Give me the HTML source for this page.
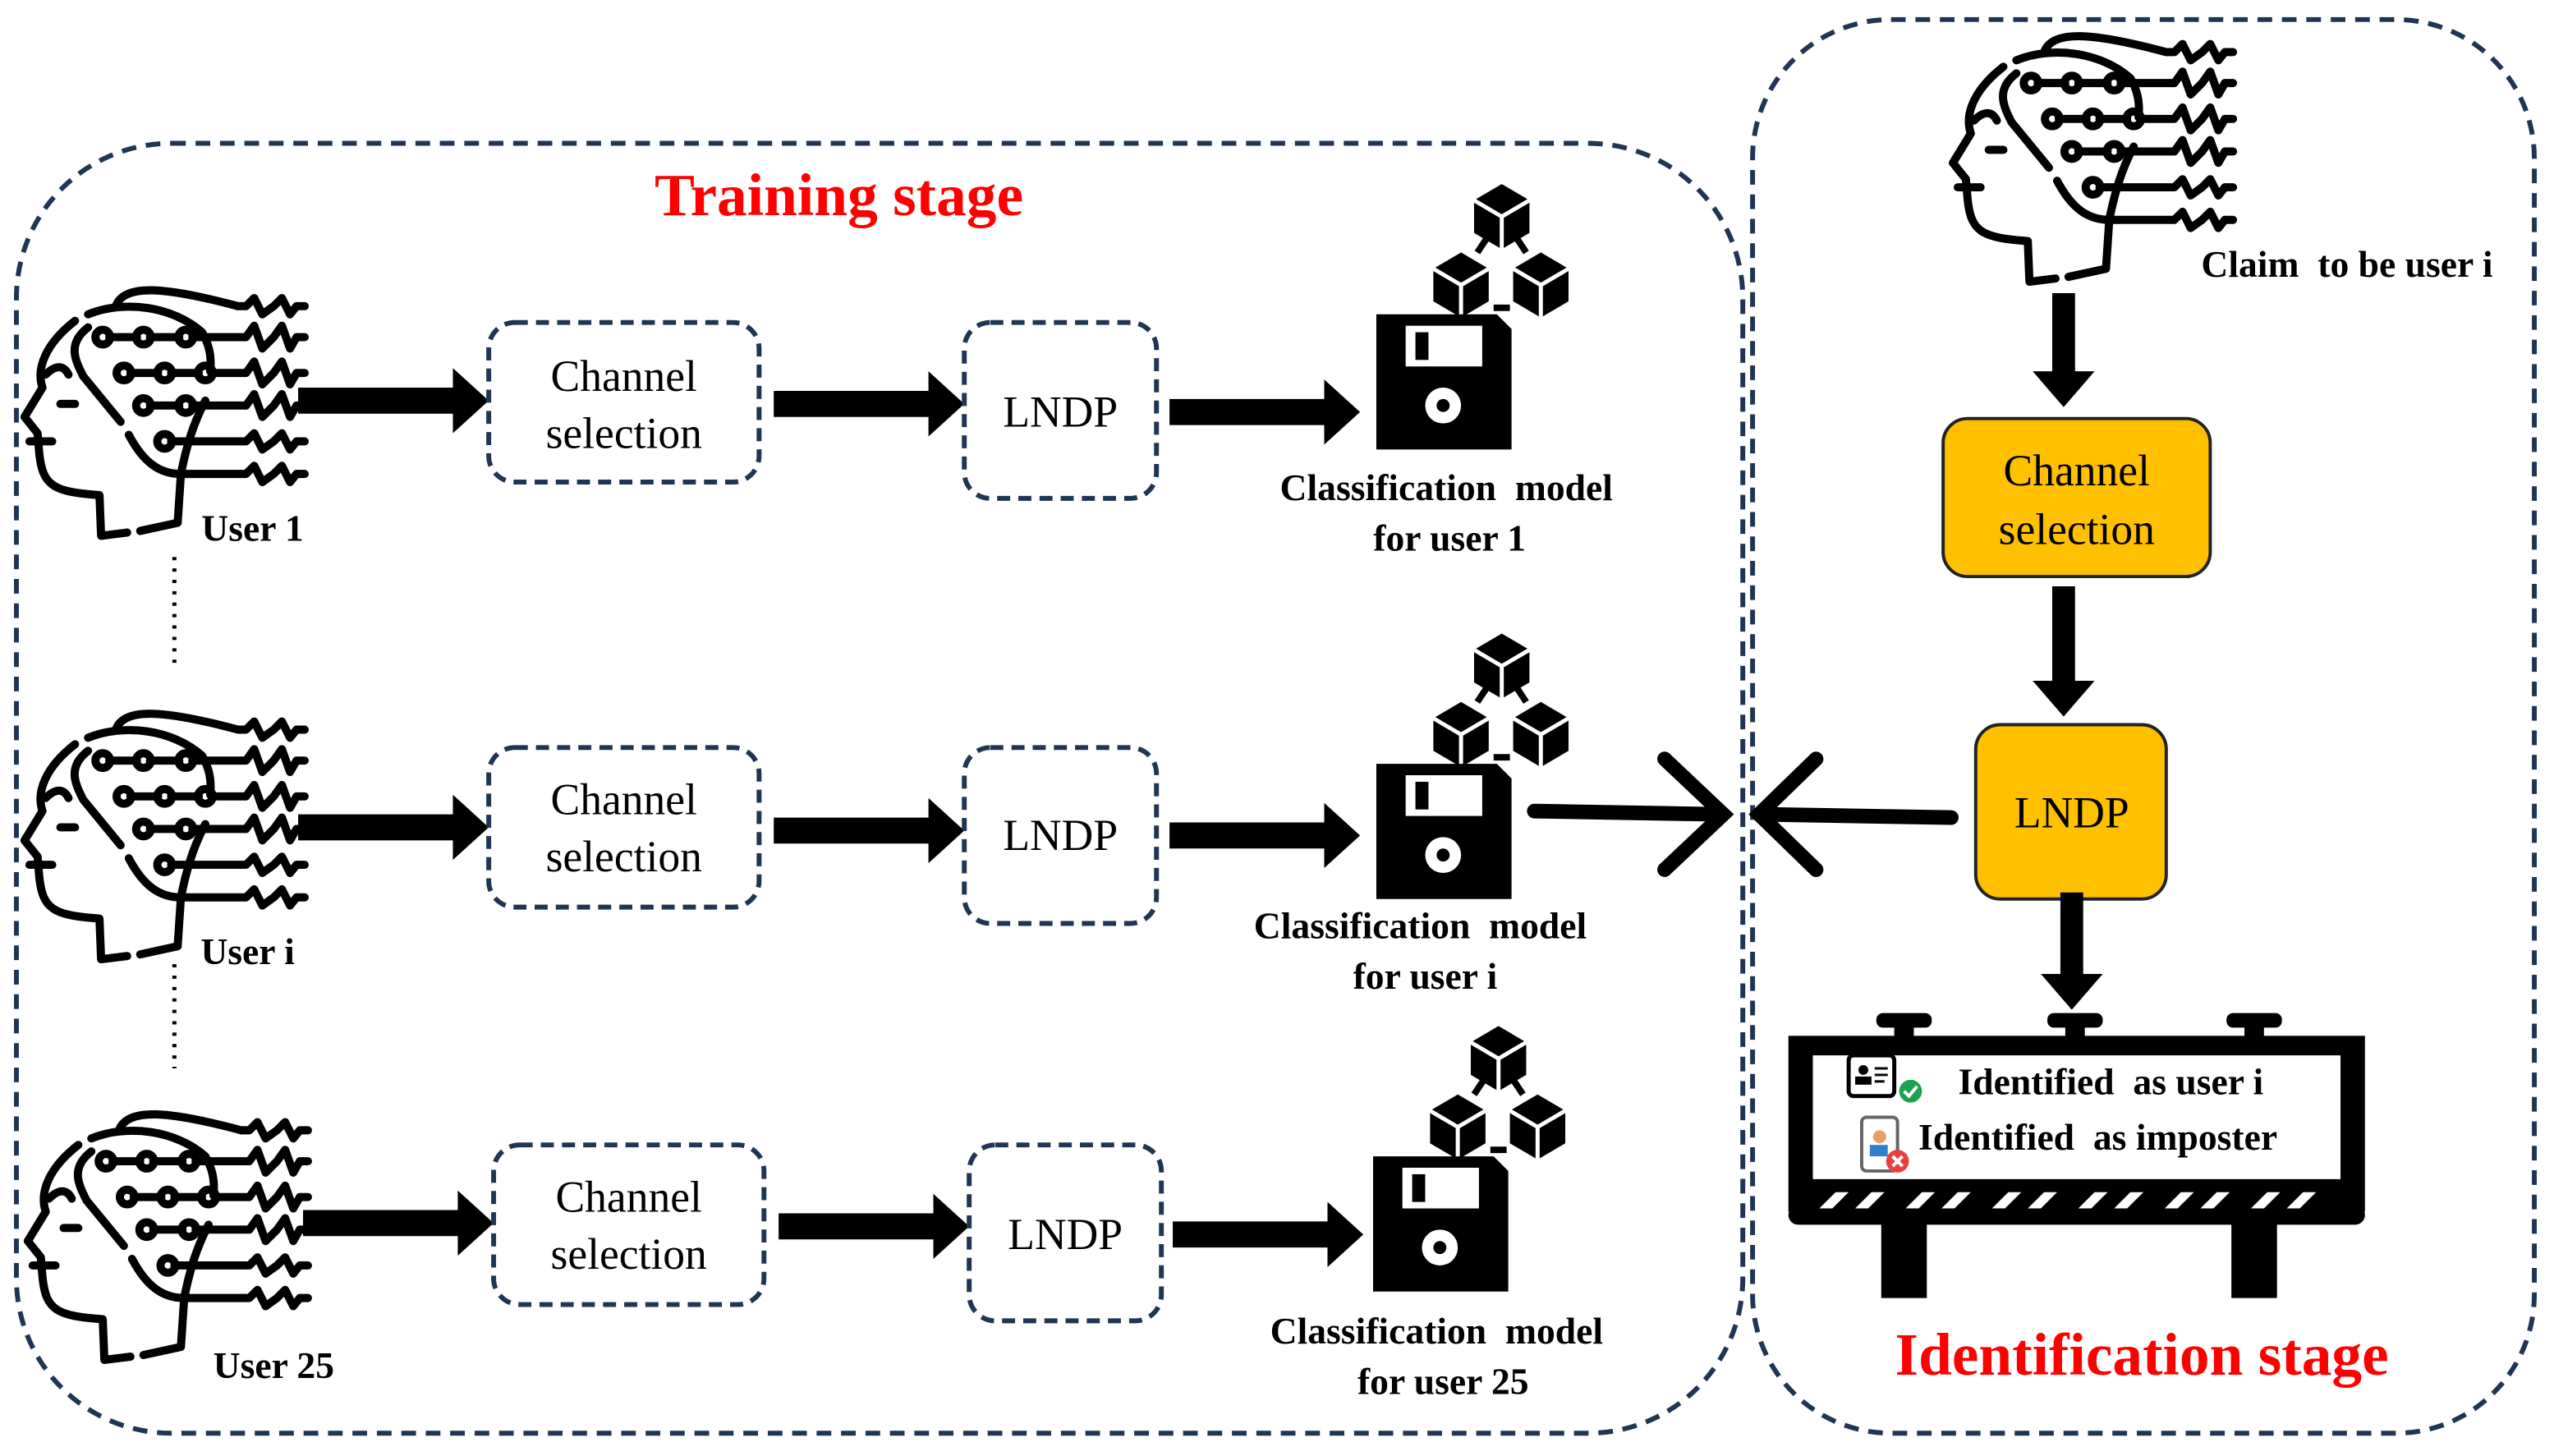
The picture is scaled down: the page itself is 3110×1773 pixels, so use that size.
<!DOCTYPE html>
<html><head><meta charset="utf-8"><style>
html,body{margin:0;padding:0;background:#fff;}
svg{display:block;}
text{font-family:"Liberation Serif",serif;white-space:pre;}
</style></head><body>
<svg width="3110" height="1773" viewBox="0 0 1568 894" xmlns="http://www.w3.org/2000/svg" xml:space="preserve">
<defs>
<g id="head" fill="none" stroke="#000" stroke-width="5" stroke-linecap="round" stroke-linejoin="round">
  <path d="M40,31 C22,45 16,60 20,72 L9,90 L17,100 L18,112 C20,132 26,136 55,138 L56,163 L72,161"/>
  <path d="M48,27 C70,18 100,22 118,38 C122,45 124,52 123,62"/>
  <path d="M65,22 C70,8 95,10 140,22"/>
  <path d="M22,64 C28,58 33,58 36,64"/>
  <path d="M31,82 L40,82"/>
  <path d="M12,105 L26,105"/>
  <path d="M48,35 C35,45 40,55 45,65 L68,93"/>
  <path d="M73,101 C82,118 92,125 105,125 L103,155 L80,160"/>
  <path d="M120,80 C112,95 108,110 105,125"/>
  <circle cx="57" cy="41" r="4.5"/><circle cx="82" cy="41" r="4.5"/><circle cx="108" cy="41" r="4.5"/>
  <circle cx="70" cy="63" r="4.5"/><circle cx="95" cy="63" r="4.5"/><circle cx="120" cy="63" r="4.5"/>
  <circle cx="82" cy="83" r="4.5"/><circle cx="108" cy="83" r="4.5"/>
  <circle cx="95" cy="105" r="4.5"/>
  <path d="M140,22 L145,22 L150,17 L155,27 L162,22 L167,17 L172,27 L176,22 L181,22"/>
  <path d="M61,41 L78,41 M86,41 L104,41 M112,41 L140,41 L145,41 L150,34 L155,48 L162,41 L167,34 L172,48 L176,41 L181,41"/>
  <path d="M74,63 L91,63 M99,63 L116,63 M124,63 L140,63 L145,63 L150,56 L155,70 L162,63 L167,56 L172,70 L176,63 L181,63"/>
  <path d="M86,83 L104,83 M112,83 L140,83 L145,83 L150,76 L155,90 L162,83 L167,76 L172,90 L176,83 L181,83"/>
  <path d="M99,105 L140,105 L145,105 L150,100 L155,110 L162,105 L167,100 L172,110 L176,105 L181,105"/>
  <path d="M105,125 L140,125 L145,125 L150,120 L155,130 L162,125 L167,120 L172,130 L176,125 L181,125"/>
</g>
<g id="cube">
  <polygon points="0,-20 17,-10 17,10 0,20 -17,10 -17,-10" fill="#000"/>
  <path d="M-17,-10 L0,0 L17,-10 M0,0 L0,20" stroke="#fff" stroke-width="2.5" fill="none"/>
</g>
<g id="model">
  <use href="#cube" x="77" y="-60"/>
  <use href="#cube" x="52" y="-18"/>
  <use href="#cube" x="101" y="-18"/>
  <path d="M62,-38 L70,-50 M92,-38 L84,-50 M72,-4 L82,-4" stroke="#000" stroke-width="4"/>
  <path d="M0,0 L74,0 L83,9 L83,83 L0,83 Z" fill="#000"/>
  <rect x="18" y="7" width="47" height="25" fill="#fff"/>
  <rect x="24" y="11" width="8" height="17" fill="#000"/>
  <circle cx="41" cy="56" r="11" fill="#fff"/>
  <circle cx="41" cy="56" r="4" fill="#000"/>
</g>
</defs>

<rect x="10" y="88" width="1060" height="792" rx="95" fill="none" stroke="#1f3552" stroke-width="3" stroke-dasharray="9,6"/>
<rect x="1076" y="12" width="480" height="868" rx="85" fill="none" stroke="#1f3552" stroke-width="3" stroke-dasharray="9,6"/>
<text x="515" y="132" font-size="37" font-weight="bold" fill="#ff0000" text-anchor="middle">Training stage</text>
<text x="1315" y="844" font-size="37" font-weight="bold" fill="#ff0000" text-anchor="middle">Identification stage</text>

<use href="#head" x="6" y="166"/>
<text x="155" y="332" font-size="23" font-weight="bold" text-anchor="middle">User 1</text>
<polygon points="183,238 278,238 278,226 300,246 278,266 278,254 183,254" fill="#000"/>
<rect x="300" y="198" width="166" height="98" rx="16" fill="none" stroke="#1f3552" stroke-width="3" stroke-dasharray="8,5"/>
<text x="383" y="240" font-size="27" text-anchor="middle">Channel</text>
<text x="383" y="275" font-size="27" text-anchor="middle">selection</text>
<polygon points="475,240 570,240 570,228 592,248 570,268 570,256 475,256" fill="#000"/>
<rect x="592" y="198" width="118" height="108" rx="16" fill="none" stroke="#1f3552" stroke-width="3" stroke-dasharray="8,5"/>
<text x="651" y="262" font-size="27" text-anchor="middle">LNDP</text>
<polygon points="718,245 813,245 813,233 835,253 813,273 813,261 718,261" fill="#000"/>
<use href="#model" x="845" y="193"/>
<text x="888" y="307" font-size="23" font-weight="bold" text-anchor="middle">Classification  model</text>
<text x="890" y="338" font-size="23" font-weight="bold" text-anchor="middle">for user 1</text>
<line x1="107" y1="342" x2="107" y2="412" stroke="#000" stroke-width="2.5" stroke-dasharray="2,5"/>

<use href="#head" x="6" y="426"/>
<text x="152" y="592" font-size="23" font-weight="bold" text-anchor="middle">User i</text>
<polygon points="183,500 278,500 278,488 300,508 278,528 278,516 183,516" fill="#000"/>
<rect x="300" y="459" width="166" height="98" rx="16" fill="none" stroke="#1f3552" stroke-width="3" stroke-dasharray="8,5"/>
<text x="383" y="500" font-size="27" text-anchor="middle">Channel</text>
<text x="383" y="535" font-size="27" text-anchor="middle">selection</text>
<polygon points="475,502 570,502 570,490 592,510 570,530 570,518 475,518" fill="#000"/>
<rect x="592" y="459" width="118" height="108" rx="16" fill="none" stroke="#1f3552" stroke-width="3" stroke-dasharray="8,5"/>
<text x="651" y="522" font-size="27" text-anchor="middle">LNDP</text>
<polygon points="718,505 813,505 813,493 835,513 813,533 813,521 718,521" fill="#000"/>
<use href="#model" x="845" y="469"/>
<text x="872" y="576" font-size="23" font-weight="bold" text-anchor="middle">Classification  model</text>
<text x="875" y="607" font-size="23" font-weight="bold" text-anchor="middle">for user i</text>
<line x1="107" y1="592" x2="107" y2="656" stroke="#000" stroke-width="2.5" stroke-dasharray="2,5"/>

<use href="#head" x="8" y="672"/>
<text x="168" y="846" font-size="23" font-weight="bold" text-anchor="middle">User 25</text>
<polygon points="186,743 281,743 281,731 303,751 281,771 281,759 186,759" fill="#000"/>
<rect x="303" y="703" width="166" height="98" rx="16" fill="none" stroke="#1f3552" stroke-width="3" stroke-dasharray="8,5"/>
<text x="386" y="744" font-size="27" text-anchor="middle">Channel</text>
<text x="386" y="779" font-size="27" text-anchor="middle">selection</text>
<polygon points="478,745 573,745 573,733 595,753 573,773 573,761 478,761" fill="#000"/>
<rect x="595" y="703" width="118" height="108" rx="16" fill="none" stroke="#1f3552" stroke-width="3" stroke-dasharray="8,5"/>
<text x="654" y="767" font-size="27" text-anchor="middle">LNDP</text>
<polygon points="720,750 815,750 815,738 837,758 815,778 815,766 720,766" fill="#000"/>
<use href="#model" x="843" y="710"/>
<text x="882" y="825" font-size="23" font-weight="bold" text-anchor="middle">Classification  model</text>
<text x="886" y="856" font-size="23" font-weight="bold" text-anchor="middle">for user 25</text>

<g stroke="#000" stroke-width="9" stroke-linecap="round" fill="none">
<path d="M942,498 L1056,500"/>
<path d="M1022,466 L1058,500 L1022,534"/>
<path d="M1198,502 L1082,500"/>
<path d="M1115,466 L1080,500 L1115,534"/>
</g>

<use href="#head" x="1190" y="10"/>
<text x="1441" y="170" font-size="23" font-weight="bold" text-anchor="middle">Claim  to be user i</text>
<polygon points="1260,180 1274,180 1274,228 1286,228 1267,250 1248,228 1260,228" fill="#000"/>
<rect x="1193" y="257" width="164" height="97" rx="15" fill="#ffc000" stroke="#222" stroke-width="2"/>
<text x="1275" y="298" font-size="27" text-anchor="middle">Channel</text>
<text x="1275" y="334" font-size="27" text-anchor="middle">selection</text>
<polygon points="1260,360 1274,360 1274,418 1286,418 1267,440 1248,418 1260,418" fill="#000"/>
<rect x="1213" y="445" width="117" height="107" rx="15" fill="#ffc000" stroke="#222" stroke-width="2"/>
<text x="1272" y="508" font-size="27" text-anchor="middle">LNDP</text>
<polygon points="1265,548 1279,548 1279,598 1291,598 1272,620 1253,598 1265,598" fill="#000"/>

<g fill="#000">
<rect x="1163" y="624" width="12" height="16"/><rect x="1152" y="622" width="34" height="9" rx="4"/>
<rect x="1268" y="624" width="12" height="16"/><rect x="1257" y="622" width="34" height="9" rx="4"/>
<rect x="1378" y="624" width="12" height="16"/><rect x="1367" y="622" width="34" height="9" rx="4"/>
<rect x="1098" y="636" width="354" height="108"/>
<rect x="1098" y="740" width="354" height="12" rx="6"/>
<rect x="1155" y="750" width="28" height="47"/>
<rect x="1370" y="750" width="28" height="47"/>
</g>
<rect x="1113" y="648" width="324" height="76" fill="#fff"/>
<g fill="#fff">
<polygon points="1117,742 1127,732 1135,732 1125,742"/>
<polygon points="1139,742 1149,732 1157,732 1147,742"/>
<polygon points="1170,742 1180,732 1188,732 1178,742"/>
<polygon points="1192,742 1202,732 1210,732 1200,742"/>
<polygon points="1223,742 1233,732 1241,732 1231,742"/>
<polygon points="1245,742 1255,732 1263,732 1253,742"/>
<polygon points="1276,742 1286,732 1294,732 1284,742"/>
<polygon points="1298,742 1308,732 1316,732 1306,742"/>
<polygon points="1329,742 1339,732 1347,732 1337,742"/>
<polygon points="1351,742 1361,732 1369,732 1359,742"/>
<polygon points="1382,742 1392,732 1400,732 1390,742"/>
<polygon points="1404,742 1414,732 1422,732 1412,742"/>
</g>
<rect x="1135" y="648" width="28" height="25" rx="3" fill="none" stroke="#000" stroke-width="2.5"/>
<circle cx="1144" cy="657" r="3" fill="#000"/><rect x="1139" y="661" width="10" height="5" fill="#000"/>
<path d="M1151,656 L1159,656 M1151,660 L1159,660 M1151,664 L1157,664" stroke="#000" stroke-width="1.5"/>
<circle cx="1173" cy="670" r="7" fill="#1aa251"/>
<path d="M1169,670 L1172,673 L1177,667" stroke="#fff" stroke-width="2" fill="none"/>
<rect x="1143" y="686" width="22" height="33" rx="3" fill="#fff" stroke="#666" stroke-width="2"/>
<circle cx="1154" cy="698" r="4" fill="#e8a064"/><rect x="1148" y="703" width="11" height="7" fill="#2f7fd0"/>
<circle cx="1165" cy="713" r="7" fill="#e84040"/>
<path d="M1162,710 L1168,716 M1168,710 L1162,716" stroke="#fff" stroke-width="2"/>
<text x="1296" y="672" font-size="23" font-weight="bold" text-anchor="middle">Identified  as user i</text>
<text x="1288" y="706" font-size="23" font-weight="bold" text-anchor="middle">Identified  as imposter</text>
</svg>
</body></html>
